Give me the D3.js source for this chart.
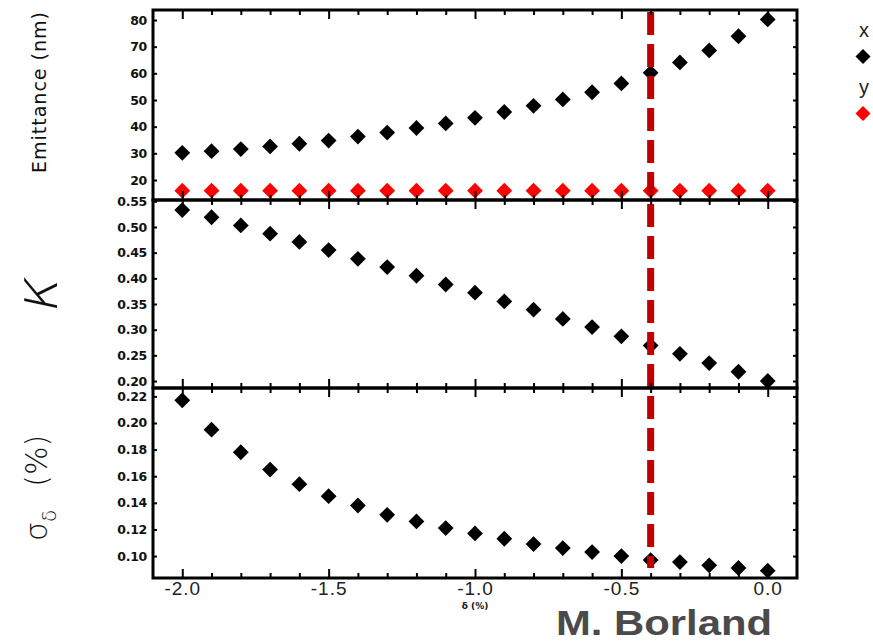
<!DOCTYPE html>
<html><head><meta charset="utf-8">
<script src="https://cdn.jsdelivr.net/npm/d3@7"></script>
<style>body{margin:0;background:#fff}</style>
</head><body>
<svg id="c" width="873" height="643"></svg>
<script>
// ---- data ----
const delta = [-2.0,-1.9,-1.8,-1.7,-1.6,-1.5,-1.4,-1.3,-1.2,-1.1,-1.0,-0.9,-0.8,-0.7,-0.6,-0.5,-0.4,-0.3,-0.2,-0.1,0.0];
const emitX = [30.2,30.8,31.6,32.6,33.6,34.8,36.3,37.8,39.5,41.2,43.3,45.5,47.8,50.2,52.9,56.2,60.2,64.1,68.6,73.9,80.2];
const emitY = [16,16,16,16,16,16,16,16,16,16,16,16,16,16,16,16,16,16,16,16,16];
const kappa = [0.533,0.519,0.503,0.487,0.471,0.455,0.438,0.422,0.405,0.388,0.372,0.355,0.339,0.321,0.305,0.287,0.269,0.253,0.235,0.218,0.200];
const sigma = [0.217,0.195,0.178,0.165,0.154,0.145,0.138,0.131,0.126,0.121,0.117,0.113,0.109,0.106,0.103,0.100,0.097,0.0955,0.093,0.091,0.089];
const xMajorTicks = [-2.0,-1.5,-1.0,-0.5,0.0];
const xTickLabels = ["-2.0","-1.5","-1.0","-0.5","0.0"];
const xMinorTicks = [-1.9,-1.8,-1.7,-1.6,-1.4,-1.3,-1.2,-1.1,-0.9,-0.8,-0.7,-0.6,-0.4,-0.3,-0.2,-0.1];
const emitTicks = [20,30,40,50,60,70,80];
const emitTickLabels = ["20","30","40","50","60","70","80"];
const kappaTicks = [0.20,0.25,0.30,0.35,0.40,0.45,0.50,0.55];
const kappaTickLabels = ["0.20","0.25","0.30","0.35","0.40","0.45","0.50","0.55"];
const sigmaTicks = [0.10,0.12,0.14,0.16,0.18,0.20,0.22];
const sigmaTickLabels = ["0.10","0.12","0.14","0.16","0.18","0.20","0.22"];
const markerDelta = -0.4;
const legendNames = ["x","y"];
const legendColors = ["#000000","#ff0000"];

// ---- layout ----
const svg = d3.select("#c");
const L = 153, R = 797;
const x = d3.scaleLinear().domain([-2.1, 0.1]).range([L, R]);

const panels = [
  {top:10, bottom:200, domain:[12.5, 83.75], ticks:emitTicks, labels:emitTickLabels,
   series:[{v:emitX,c:"#000"},{v:emitY,c:"#ff0000"}]},
  {top:200, bottom:388, domain:[0.1864, 0.5526], ticks:kappaTicks, labels:kappaTickLabels,
   series:[{v:kappa,c:"#000"}]},
  {top:388, bottom:578, domain:[0.0835, 0.2263], ticks:sigmaTicks, labels:sigmaTickLabels,
   series:[{v:sigma,c:"#000"}]}
];

const diamond = d3.symbol().type(d3.symbolSquare).size(125);

panels.forEach((p) => {
  const y = d3.scaleLinear().domain(p.domain).range([p.bottom, p.top]);
  p.y = y;
  const g = svg.append("g");
  p.series.forEach(s => {
    g.selectAll(null).data(delta.map((d,i)=>[d,s.v[i]])).join("path")
      .attr("d", diamond)
      .attr("transform", d => `translate(${x(d[0])},${y(d[1])}) rotate(45)`)
      .attr("fill", s.c);
  });
});

// red marker line
svg.append("line")
  .attr("x1", x(markerDelta)).attr("x2", x(markerDelta))
  .attr("y1", 12).attr("y2", 568)
  .attr("stroke", "#c00000").attr("stroke-width", 7)
  .attr("stroke-dasharray", "23,9");

panels.forEach((p) => {
  const y = p.y;
  const g = svg.append("g");
  const la = g.append("g").attr("transform", `translate(${L},0)`)
    .call(d3.axisLeft(y).tickValues(p.ticks).tickSize(-4).tickPadding(6)
      .tickFormat((d,i)=>p.labels[i]));
  la.select(".domain").remove();
  la.selectAll("line").attr("stroke","#000").attr("stroke-width",2);
  la.selectAll("text").attr("font-family","DejaVu Sans").attr("font-weight","bold")
    .attr("font-size",12.5).attr("fill","#111").attr("letter-spacing","-0.3");
  const ra = g.append("g").attr("transform", `translate(${R},0)`)
    .call(d3.axisRight(y).tickValues(p.ticks).tickSize(-4).tickFormat(""));
  ra.select(".domain").remove();
  ra.selectAll("line").attr("stroke","#000").attr("stroke-width",2);
  [[d3.axisBottom, p.bottom, -9, xMajorTicks],[d3.axisBottom, p.bottom, -5, xMinorTicks],
   [d3.axisTop, p.top, -9, xMajorTicks],[d3.axisTop, p.top, -5, xMinorTicks]].forEach(([ax, yy, sz, tv]) => {
    const a = g.append("g").attr("transform", `translate(0,${yy})`)
      .call(ax(x).tickValues(tv).tickSize(sz).tickFormat(""));
    a.select(".domain").remove();
    a.selectAll("line").attr("stroke","#000").attr("stroke-width",2);
  });
  g.append("rect").attr("x", L).attr("y", p.top).attr("width", R-L).attr("height", p.bottom-p.top)
    .attr("fill","none").attr("stroke","#000").attr("stroke-width",3);
});

// x tick labels (bottom)
const xl = svg.append("g").attr("transform", `translate(0,578)`)
  .call(d3.axisBottom(x).tickValues(xMajorTicks).tickSize(0).tickPadding(4)
    .tickFormat((d,i)=>xTickLabels[i]));
xl.select(".domain").remove();
xl.selectAll("text").attr("font-family","Liberation Sans").attr("font-size",19)
  .attr("letter-spacing","1").attr("fill","#222");

// x axis title
svg.append("text").attr("x", x(-1.0)).attr("y", 609).attr("text-anchor","middle")
  .attr("font-family","DejaVu Sans").attr("font-weight","bold").attr("font-size",9).attr("fill","#111")
  .text("δ (%)");

// y axis titles
svg.append("text").attr("transform","translate(46,92) rotate(-90)").attr("text-anchor","middle")
  .attr("font-family","DejaVu Sans").attr("font-size",19).attr("letter-spacing","1").attr("fill","#111")
  .text("Emittance (nm)");
svg.append("text").attr("transform","translate(57,297) rotate(-90) skewX(-12)").attr("text-anchor","middle")
  .attr("font-family","DejaVu Sans").attr("font-weight","200")
  .attr("font-size",60).attr("fill","#111")
  .text("κ");
const st = svg.append("text").attr("transform","translate(47,541) rotate(-90)").attr("text-anchor","start")
  .attr("font-family","DejaVu Sans").attr("font-weight","300").attr("font-size",30).attr("fill","#111");
st.append("tspan").text("σ");
st.append("tspan").attr("font-size",20).attr("dy",9).text("δ");
st.append("tspan").attr("dy",-9).attr("dx",23).text("(%)");

// legend
legendNames.forEach((n,i) => {
  svg.append("text").attr("x", 864).attr("y", 37 + i*57).attr("text-anchor","middle")
    .attr("font-family","Liberation Sans").attr("font-size",20).attr("fill","#222").text(n);
  svg.append("path").attr("d", d3.symbol().type(d3.symbolSquare).size(112))
    .attr("transform", `translate(863,${56.5 + i*57}) rotate(45)`).attr("fill", legendColors[i]);
});

// credit
svg.append("text").attr("x", 556).attr("y", 635).attr("text-anchor","start")
  .attr("font-family","Liberation Sans").attr("font-weight","bold").attr("font-size",35)
  .attr("textLength", 216).attr("lengthAdjust","spacingAndGlyphs")
  .attr("fill","#4a4a4a").text("M. Borland");
</script>
</body></html>
